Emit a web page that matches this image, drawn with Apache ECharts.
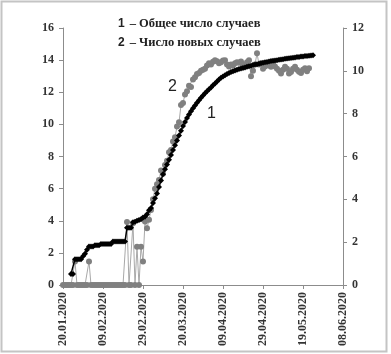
<!DOCTYPE html>
<html>
<head>
<meta charset="utf-8">
<script src="https://cdn.jsdelivr.net/npm/echarts@6/dist/echarts.min.js"></script>
<style>
  html, body { margin: 0; padding: 0; background: #fff; }
  #chart { width: 391px; height: 354px; }
</style>
</head>
<body>
<div id="chart"></div>
<script>
// подписи оси X (каждые 20 дней от 20.01.2020)
const xLabels = ['20.01.2020', '09.02.2020', '29.02.2020', '20.03.2020', '09.04.2020', '29.04.2020', '19.05.2020', '08.06.2020'];

// 1 – общее число случаев (ln), с 4-го дня
const totalStart = 4;
const totalLn = [
  0.69, 0.69, 1.61, 1.61, 1.61, 1.61, 1.79, 1.95, 2.2, 2.4,
  2.4, 2.4, 2.48, 2.48, 2.48, 2.56, 2.56, 2.56, 2.56, 2.56,
  2.56, 2.71, 2.71, 2.71, 2.71, 2.71, 2.71, 2.71, 3.56, 3.56,
  3.56, 3.9, 3.93, 4.0, 4.05, 4.1, 4.2, 4.25, 4.4, 4.65,
  4.8, 5.1, 5.4, 5.7, 6.1, 6.5, 6.9, 7.2, 7.5, 7.8,
  8.1, 8.4, 8.7, 9.0, 9.3, 9.6, 9.9, 10.15, 10.4, 10.62,
  10.82, 11.0, 11.18, 11.35, 11.5, 11.65, 11.8, 11.93, 12.06, 12.18,
  12.3, 12.43, 12.55, 12.67, 12.8, 12.9, 12.98, 13.06, 13.13, 13.2,
  13.26, 13.31, 13.36, 13.4, 13.44, 13.48, 13.51, 13.54, 13.58, 13.62,
  13.65, 13.69, 13.72, 13.75, 13.78, 13.81, 13.84, 13.86, 13.89, 13.91,
  13.94, 13.96, 13.98, 14.0, 14.02, 14.04, 14.06, 14.08, 14.1, 14.12,
  14.14, 14.15, 14.17, 14.19, 14.2, 14.22, 14.23, 14.25, 14.26, 14.28,
  14.29, 14.3
];

// 2 – число новых случаев (ln), с 0-го дня, правая ось
const newStart = 0;
const newLn = [
  0, 0, 0, 0, 0, 0, 1.1, 0, 0, 0,
  0, 0, 0, 1.1, 0, 0, 0, 0, 0, 0,
  0, 0, 0, 0, 0, 0, 0, 0, 0, 0,
  0, 0, 2.94, 0, 0, 2.88, 0, 1.79, 0, 1.79,
  1.1, 2.96, 2.65, 3.05, 3.5, 4.0, 4.5, 4.7, 4.9, 5.35,
  5.2, 5.6, 5.8, 6.2, 6.3, 6.7, 6.9, 7.4, 7.6, 8.4,
  8.5, 8.9, 9.05, 9.3, 9.25, 9.6, 9.7, 9.85, 9.9, 10.0,
  10.05, 10.1, 10.25, 10.35, 10.3, 10.42, 10.5, 10.45, 10.35, 10.4,
  10.48, 10.5, 10.3, 10.2, 10.3, 10.25, 10.35, 10.4, 10.38, 10.43,
  10.3, 10.27, 10.4, 10.5, 9.75, 10.0, 10.3, 10.82, 10.3, 10.35,
  10.1, 10.2, 10.35, 10.25, 10.19, 10.3, 10.2, 10.1, 10.0, 9.88,
  10.05, 10.19, 10.1, 9.88, 9.95, 10.1, 10.19, 10.05, 9.96, 9.9,
  10.05, 10.12, 9.98, 10.12
];

const totalData = totalLn.map((v, i) => [totalStart + i, v]);
const newData = newLn.map((v, i) => [newStart + i, v]);

const axisFont = { fontFamily: 'Liberation Serif', fontWeight: 'bold', fontSize: 12, color: '#333' };
const axisLine = { show: true, lineStyle: { color: '#8c8c8c', width: 1 } };

const chart = echarts.init(document.getElementById('chart'));
chart.setOption({
  animation: false,
  backgroundColor: '#fff',
  grid: { left: 63, right: 48, top: 28, bottom: 69 },
  title: [
    {
      left: 113, top: 10,
      text: '{n|1} {t|– Общее число случаев}',
      textStyle: { rich: {
        n: { fontFamily: 'Liberation Sans', fontSize: 12, color: '#222' },
        t: { fontFamily: 'Liberation Serif', fontWeight: 'bold', fontSize: 12.5, color: '#222' }
      } }
    },
    {
      left: 113, top: 29,
      text: '{n|2} {t|– Число новых случаев}',
      textStyle: { rich: {
        n: { fontFamily: 'Liberation Sans', fontSize: 12, color: '#222' },
        t: { fontFamily: 'Liberation Serif', fontWeight: 'bold', fontSize: 12.5, color: '#222' }
      } }
    }
  ],
  graphic: [
    { type: 'rect', shape: { x: 1.5, y: 1.5, width: 385, height: 350 },
      style: { fill: 'none', stroke: '#c4c4c4', lineWidth: 2 }, silent: true },
    { type: 'text', left: 168, top: 79,
      style: { text: '2', font: '16px "Liberation Sans"', fill: '#222' } },
    { type: 'text', left: 207, top: 106,
      style: { text: '1', font: '16px "Liberation Sans"', fill: '#222' } }
  ],
  xAxis: {
    type: 'value',
    min: 0, max: 140, interval: 20,
    axisLine: axisLine,
    axisTick: { show: true, length: 4, lineStyle: { color: '#8c8c8c' } },
    splitLine: { show: false },
    axisLabel: Object.assign({}, axisFont, {
      rotate: 90, margin: 7,
      formatter: v => xLabels[Math.round(v / 20)]
    })
  },
  yAxis: [
    {
      type: 'value', min: 0, max: 16, interval: 2,
      axisLine: axisLine,
      axisTick: { show: true, length: 4, lineStyle: { color: '#8c8c8c' } },
      splitLine: { show: false },
      axisLabel: Object.assign({}, axisFont, { margin: 9 })
    },
    {
      type: 'value', min: 0, max: 12, interval: 2, position: 'right',
      axisLine: axisLine,
      axisTick: { show: true, length: 4, lineStyle: { color: '#8c8c8c' } },
      splitLine: { show: false },
      axisLabel: Object.assign({}, axisFont, { margin: 9 })
    }
  ],
  series: [
    {
      name: '2 – Число новых случаев',
      type: 'line',
      yAxisIndex: 1,
      data: newData,
      symbol: 'circle',
      symbolSize: 6,
      itemStyle: { color: '#808080' },
      lineStyle: { color: '#a8a8a8', width: 1 },
      z: 2
    },
    {
      name: '1 – Общее число случаев',
      type: 'line',
      yAxisIndex: 0,
      data: totalData,
      symbol: 'diamond',
      symbolSize: 6,
      itemStyle: { color: '#000' },
      lineStyle: { color: '#000', width: 1.5 },
      z: 3
    }
  ]
});
</script>
</body>
</html>
